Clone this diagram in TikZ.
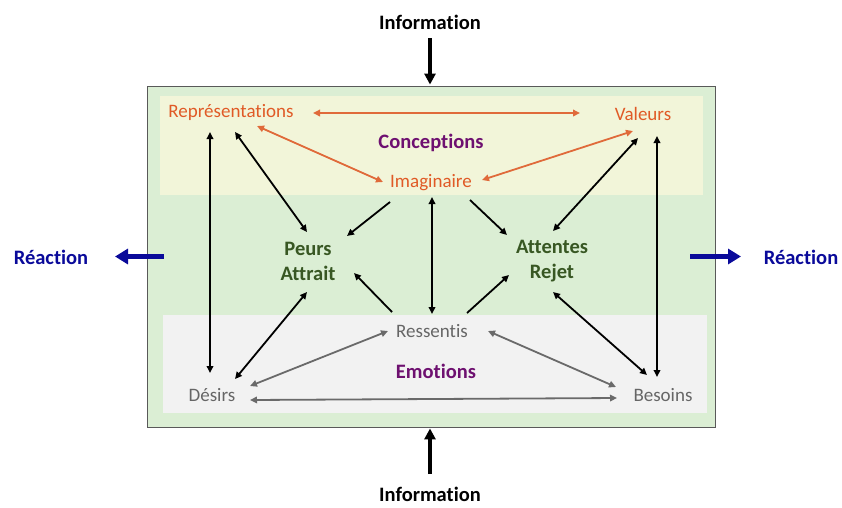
\documentclass[tikz,border=0pt]{standalone}
\usepackage{fontspec}
\setmainfont[Ligatures={NoCommon}]{Carlito}
\usetikzlibrary{arrows.meta}
\definecolor{framegreen}{HTML}{DBEED4}
\definecolor{bandyellow}{HTML}{F2F5D9}
\definecolor{bandgray}{HTML}{F2F2F2}
\definecolor{orangetxt}{HTML}{E05A26}
\definecolor{orangearr}{HTML}{E06A3A}
\definecolor{purpletxt}{HTML}{6E1070}
\definecolor{greentxt}{HTML}{385723}
\definecolor{bluetxt}{HTML}{0A0A9A}
\definecolor{graytxt}{HTML}{666666}
\definecolor{grayarr}{HTML}{6A6A6A}
\tikzset{
  lbl/.style={inner sep=1pt, font=\fontsize{19}{24}\selectfont},
  blbl/.style={inner sep=1pt, font=\fontsize{20.5}{25}\selectfont\bfseries},
  otxt/.style={lbl, text=orangetxt},
  gtxt/.style={lbl, text=graytxt},
  ptxt/.style={blbl, text=purpletxt},
  grtxt/.style={blbl, text=greentxt, align=center},
  btxt/.style={blbl, text=bluetxt},
  ktxt/.style={blbl, text=black},
  tipk/.tip={Triangle[length=7pt,width=6.5pt]},
  barr/.style={line width=1.8pt, black, {tipk}-{tipk}},
  barrone/.style={line width=1.8pt, black, -{tipk}},
  oarr/.style={line width=1.8pt, orangearr, {tipk}-{tipk}},
  garr/.style={line width=1.8pt, grayarr, {tipk}-{tipk}},
  infoarr/.style={line width=3.8pt, black, -{Triangle[length=11pt,width=11pt]}},
  reacarr/.style={line width=5pt, bluetxt, -{Triangle[length=13pt,width=15pt]}},
}
\begin{document}
\begin{tikzpicture}[x=1pt,y=-1pt]
\useasboundingbox (0,0) rectangle (842,507);
% frames
\node[draw=black!65, line width=0.9pt, fill=framegreen, minimum width=568pt, minimum height=341pt, inner sep=0pt] (frame) at (431,256.5) {};
\node[fill=bandyellow, minimum width=543pt, minimum height=99pt, inner sep=0pt] (cband) at (431.5,145.5) {};
\node[fill=bandgray, minimum width=544pt, minimum height=98pt, inner sep=0pt] (eband) at (435,364) {};
% texts
\node[otxt] (rep) at (231,112.5) {Représentations};
\node[otxt] (val) at (643,113.5) {Valeurs};
\node[ptxt] (conc) at (431,142.5) {Conceptions};
\node[otxt] (ima) at (431,182.5) {Imaginaire};
\node[grtxt] (pa) at (308,261.5) {Peurs\\Attrait};
\node[grtxt] (att) at (552,261.5) {Attentes\\Rejet};
\node[gtxt] (res) at (432,331.5) {Ressentis};
\node[ptxt] (emo) at (436,371.5) {Emotions};
\node[gtxt] (des) at (212,395.5) {Désirs};
\node[gtxt] (bes) at (663,395.5) {Besoins};
\node[ktxt] (info1) at (430,22) {Information};
\node[ktxt] (info2) at (430,494.5) {Information};
\node[btxt] (reac1) at (51,257.5) {Réaction};
\node[btxt] (reac2) at (801,257.5) {Réaction};
% orange connectors
\draw[oarr] ([shift={(82,0.5)}]rep.center) -- ([shift={(-63,-0.5)}]val.center);
\draw[oarr] ([shift={(26,13.5)}]rep.center) -- ([shift={(-48,-0.5)}]ima.center);
\draw[oarr] ([shift={(-10,17.5)}]val.center) -- ([shift={(51,-2.5)}]ima.center);
% black connectors
\draw[barr] ([shift={(-21,19.5)}]rep.center) -- ([shift={(-2,-22.5)}]des.center);
\draw[barr] ([shift={(4,19.5)}]rep.center) -- ([shift={(-1,-29.5)}]pa.center);
\draw[barrone] ([shift={(-41,19.5)}]ima.center) -- ([shift={(39,-25.5)}]pa.center);
\draw[barr] ([shift={(1,14.5)}]ima.center) -- ([shift={(0,-17.5)}]res.center);
\draw[barrone] ([shift={(39,17.5)}]ima.center) -- ([shift={(-45,-26.5)}]att.center);
\draw[barr] ([shift={(-5,24.5)}]val.center) -- ([shift={(1,-30.5)}]att.center);
\draw[barr] ([shift={(14,22.5)}]val.center) -- ([shift={(-6,-18.5)}]bes.center);
\draw[barrone] ([shift={(-40,-19.5)}]res.center) -- ([shift={(46,11.5)}]pa.center);
\draw[barrone] ([shift={(35,-18.5)}]res.center) -- ([shift={(-43,13.5)}]att.center);
\draw[barr] ([shift={(23,-16.5)}]des.center) -- ([shift={(-1,30.5)}]pa.center);
\draw[barr] ([shift={(1,30.5)}]att.center) -- ([shift={(-16,-20.5)}]bes.center);
% gray connectors
\draw[garr] ([shift={(-44,-0.5)}]res.center) -- ([shift={(38,-9.5)}]des.center);
\draw[garr] ([shift={(56,-0.5)}]res.center) -- ([shift={(-47,-8.5)}]bes.center);
\draw[garr] ([shift={(38,4.5)}]des.center) -- ([shift={(-46,2.5)}]bes.center);
% outside arrows
\draw[infoarr] ([shift={(0,16)}]info1.center) -- ([shift={(-1,-1)}]frame.north);
\draw[infoarr] ([shift={(0,-20.5)}]info2.center) -- ([shift={(-1,1)}]frame.south);
\draw[reacarr] ([shift={(17,0)}]frame.west) -- ([shift={(64,-1)}]reac1.center);
\draw[reacarr] ([shift={(-25,0)}]frame.east) -- ([shift={(-60,-1)}]reac2.center);
\end{tikzpicture}
\end{document}
